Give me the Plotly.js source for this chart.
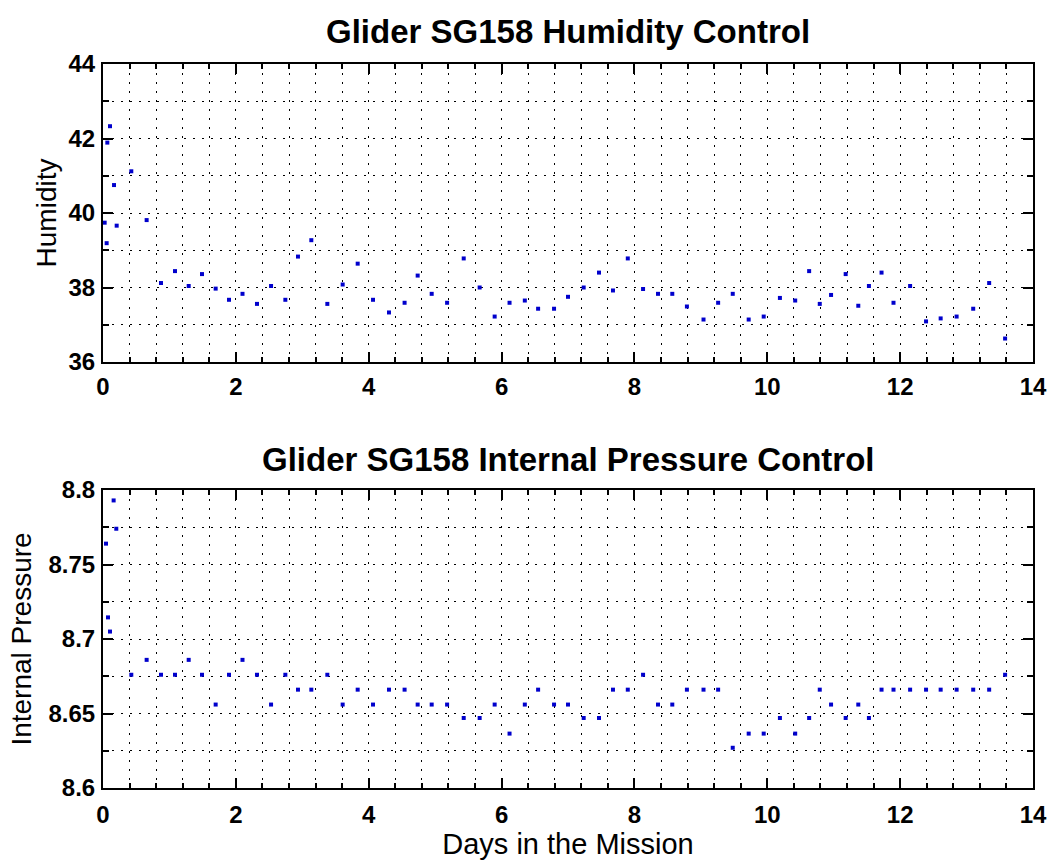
<!DOCTYPE html>
<html>
<head>
<meta charset="utf-8">
<script src="https://cdn.plot.ly/plotly-3.0.1.min.js"></script>
<style>
  html, body { margin: 0; padding: 0; background: #fff; }
  #myDiv { width: 1056px; height: 862px; }
</style>
</head>
<body>
<div id="myDiv"></div>
<script>
// humidity samples (days in mission, humidity)
var humDays = [0.025, 0.055, 0.065, 0.105, 0.166, 0.206, 0.426, 0.657, 0.873, 1.084,
    1.29, 1.49, 1.696, 1.897, 2.10, 2.318, 2.53, 2.745, 2.935, 3.136,
    3.377, 3.608, 3.834, 4.065, 4.305, 4.54, 4.737, 4.948, 5.18, 5.43,
    5.67, 5.896, 6.12, 6.35, 6.55, 6.79, 7.0, 7.236, 7.467, 7.677,
    7.90, 8.13, 8.355, 8.57, 8.79, 9.04, 9.26, 9.48, 9.72, 9.946,
    10.19, 10.42, 10.63, 10.79, 10.96, 11.18, 11.37, 11.53, 11.72, 11.9,
    12.15, 12.39, 12.61, 12.85, 13.10, 13.34, 13.58];
var humidity = [39.74, 39.19, 41.89, 42.33, 40.75, 39.66, 41.12, 39.81, 38.12, 38.44,
    38.04, 38.36, 37.97, 37.67, 37.83, 37.56, 38.04, 37.67, 38.83, 39.27,
    37.56, 38.08, 38.64, 37.67, 37.33, 37.59, 38.32, 37.83, 37.59, 38.78,
    38.00, 37.22, 37.59, 37.65, 37.43, 37.43, 37.75, 38.00, 38.40, 37.92,
    38.78, 37.96, 37.83, 37.83, 37.49, 37.14, 37.59, 37.83, 37.14, 37.22,
    37.72, 37.65, 38.44, 37.56, 37.80, 38.36, 37.51, 38.04, 38.40, 37.59,
    38.04, 37.09, 37.17, 37.22, 37.43, 38.12, 36.63];

// internal pressure samples
var presDays = [0.045, 0.075, 0.105, 0.16, 0.2, 0.426, 0.657, 0.873, 1.084,
    1.29, 1.49, 1.696, 1.897, 2.10, 2.318, 2.53, 2.745, 2.935, 3.136,
    3.377, 3.608, 3.834, 4.065, 4.305, 4.54, 4.737, 4.948, 5.18, 5.43,
    5.67, 5.896, 6.12, 6.35, 6.55, 6.79, 7.0, 7.236, 7.467, 7.677,
    7.90, 8.13, 8.355, 8.57, 8.79, 9.04, 9.26, 9.48, 9.72, 9.946,
    10.19, 10.42, 10.63, 10.79, 10.96, 11.18, 11.37, 11.53, 11.72, 11.9,
    12.15, 12.39, 12.61, 12.85, 13.10, 13.34, 13.58];
var pressure = [8.764, 8.7145, 8.705, 8.793, 8.774, 8.676, 8.686, 8.676, 8.676,
    8.686, 8.676, 8.656, 8.676, 8.686, 8.676, 8.656, 8.676, 8.666, 8.666,
    8.676, 8.656, 8.666, 8.656, 8.666, 8.666, 8.656, 8.656, 8.656, 8.647,
    8.647, 8.656, 8.6365, 8.656, 8.666, 8.656, 8.656, 8.647, 8.647, 8.666,
    8.666, 8.676, 8.656, 8.656, 8.666, 8.666, 8.666, 8.627, 8.6365, 8.6365,
    8.647, 8.6365, 8.647, 8.666, 8.656, 8.647, 8.656, 8.647, 8.666, 8.666,
    8.666, 8.666, 8.666, 8.666, 8.666, 8.666, 8.676];

var FONT = "Liberation Sans, Arial, Helvetica, sans-serif";
var dotGrid = "2px,7px";

var trace1 = {
    x: humDays,
    y: humidity,
    type: 'scatter',
    mode: 'markers',
    marker: { symbol: 'square', size: 4, color: '#0000cc' },
    xaxis: 'x',
    yaxis: 'y'
};

var trace2 = {
    x: presDays,
    y: pressure,
    type: 'scatter',
    mode: 'markers',
    marker: { symbol: 'square', size: 4, color: '#0000cc' },
    xaxis: 'x2',
    yaxis: 'y2'
};

function axisStyle(extra) {
    var a = {
        showline: true,
        linecolor: '#000',
        linewidth: 2,
        mirror: 'ticks',
        ticks: 'inside',
        ticklen: 10,
        tickwidth: 2,
        tickcolor: '#000',
        showgrid: true,
        gridcolor: '#000',
        gridwidth: 1,
        griddash: dotGrid,
        zeroline: false,
        tickfont: { family: FONT, size: 24, color: '#000', weight: 'bold' },
        fixedrange: true
    };
    for (var k in extra) a[k] = extra[k];
    return a;
}

var minorX = { dtick: 0.4, ticks: 'inside', ticklen: 5, tickcolor: '#000', showgrid: true, gridcolor: '#000', griddash: dotGrid, gridwidth: 1 };

var layout = {
    width: 1056,
    height: 862,
    margin: { l: 103, r: 23, t: 64, b: 74 },
    paper_bgcolor: '#fff',
    plot_bgcolor: '#fff',
    showlegend: false,
    hovermode: false,
    xaxis: axisStyle({
        anchor: 'y', domain: [0, 1], range: [0, 14], tick0: 0, dtick: 2,
        ticklabelstandoff: 2,
        minor: minorX
    }),
    yaxis: axisStyle({
        anchor: 'x', domain: [0.5884, 1], range: [36, 44], tick0: 36, dtick: 2,
        ticklabelstandoff: 1,
        minor: { dtick: 1, ticks: 'inside', ticklen: 6, tickcolor: '#000', showgrid: true, gridcolor: '#000', griddash: dotGrid, gridwidth: 1 },
        title: { text: 'Humidity', font: { family: FONT, size: 28, color: '#000' }, standoff: 4 }
    }),
    xaxis2: axisStyle({
        anchor: 'y2', domain: [0, 1], range: [0, 14], tick0: 0, dtick: 2,
        ticklabelstandoff: 4,
        minor: minorX,
        title: { text: 'Days in the Mission', font: { family: FONT, size: 29, color: '#000' }, standoff: 0 }
    }),
    yaxis2: axisStyle({
        anchor: 'x2', domain: [0, 0.4116], range: [8.6, 8.8], tick0: 8.6, dtick: 0.05,
        ticklabelstandoff: 1,
        minor: { dtick: 0.025, ticks: 'inside', ticklen: 6, tickcolor: '#000', showgrid: true, gridcolor: '#000', griddash: dotGrid, gridwidth: 1 },
        title: { text: 'Internal Pressure', font: { family: FONT, size: 28, color: '#000' }, standoff: 9 }
    }),
    annotations: [
        {
            text: 'Glider SG158 Humidity Control',
            xref: 'paper', yref: 'paper', x: 0.5, y: 1.0442,
            xanchor: 'center', yanchor: 'middle', showarrow: false,
            font: { family: FONT, size: 33, color: '#000', weight: 'bold' }
        },
        {
            text: 'Glider SG158 Internal Pressure Control',
            xref: 'paper', yref: 'paper', x: 0.5, y: 0.4544,
            xanchor: 'center', yanchor: 'middle', showarrow: false,
            font: { family: FONT, size: 33, color: '#000', weight: 'bold' }
        }
    ]
};

Plotly.newPlot('myDiv', [trace1, trace2], layout, { displayModeBar: false, staticPlot: true });
</script>
</body>
</html>
